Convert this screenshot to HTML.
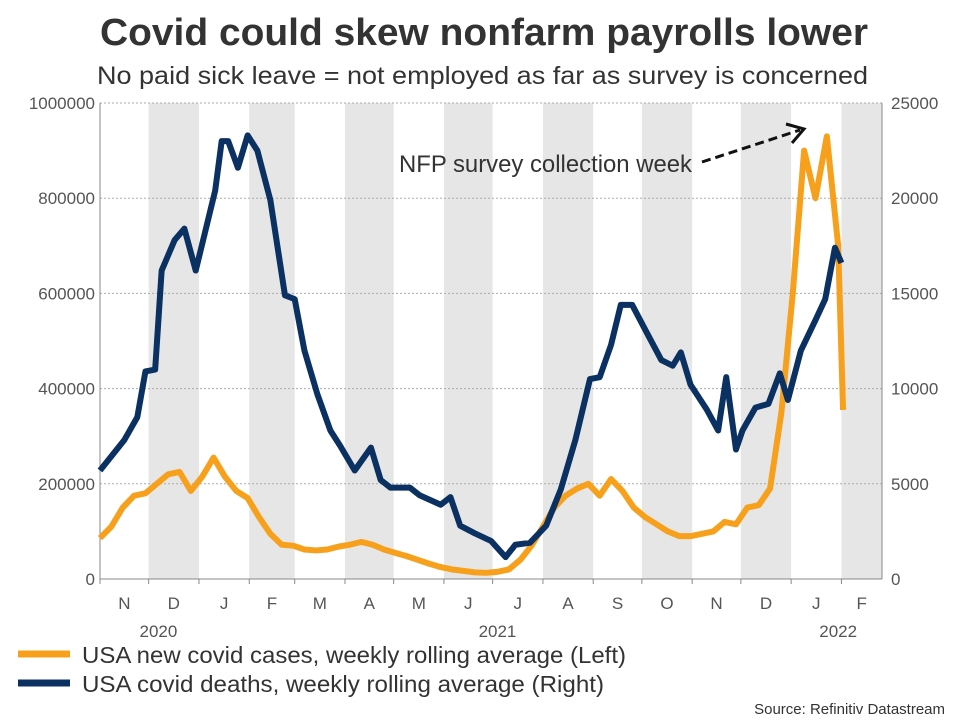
<!DOCTYPE html>
<html><head><meta charset="utf-8"><style>
body{margin:0;background:#fff;font-family:"Liberation Sans",Arial,sans-serif;}
svg text{font-family:"Liberation Sans",Arial,sans-serif;}
</style></head><body>
<svg id="c" width="960" height="720" xmlns="http://www.w3.org/2000/svg">
<rect width="960" height="720" fill="#fff"/>
<text x="100" y="45" font-size="38" font-weight="bold" fill="#333" textLength="768" lengthAdjust="spacingAndGlyphs">Covid could skew nonfarm payrolls lower</text>
<text x="97" y="84" font-size="25" fill="#333" textLength="771" lengthAdjust="spacingAndGlyphs">No paid sick leave = not employed as far as survey is concerned</text>
<g id="bands"></g><g id="grid"></g><g id="axes"></g><g id="series"></g>
<text x="399" y="172" font-size="24" fill="#333" textLength="293" lengthAdjust="spacingAndGlyphs">NFP survey collection week</text>
<line x1="702" y1="162" x2="800" y2="130" stroke="#111" stroke-width="3" stroke-dasharray="9,5"/>
<polyline points="786,124 804,129 792,143" fill="none" stroke="#111" stroke-width="3"/>
<line x1="18" y1="654" x2="70" y2="654" stroke="#f7a01c" stroke-width="7"/>
<text x="82" y="663" font-size="23" fill="#333" textLength="544" lengthAdjust="spacingAndGlyphs">USA new covid cases, weekly rolling average (Left)</text>
<line x1="18" y1="683" x2="70" y2="683" stroke="#0a3161" stroke-width="7"/>
<text x="82" y="692" font-size="23" fill="#333" textLength="522" lengthAdjust="spacingAndGlyphs">USA covid deaths, weekly rolling average (Right)</text>
<text x="945" y="714" text-anchor="end" font-size="15" fill="#333">Source: Refinitiv Datastream</text>
</svg>
<script>
const caseDays=[0,7,14,21,28,35,42,49,56,63,70,77,84,91,98,105,112,119,126,133,140,147,154,161,168,175,182,189,196,203,210,217,224,231,238,245,252,259,266,273,280,287,294,301,308,315,322,329,336,343,350,357,364,371,378,385,392,399,406,413,420,427,434,441,448,455,458];
const cases=[86000,110000,150000,175000,180000,200000,220000,225000,185000,215000,255000,215000,185000,170000,130000,95000,72000,70000,62000,60000,62000,68000,72000,78000,72000,62000,55000,48000,40000,32000,25000,20000,17000,14000,13000,15000,20000,40000,70000,110000,150000,175000,190000,200000,175000,210000,185000,150000,130000,115000,100000,90000,90000,95000,100000,120000,115000,150000,155000,190000,350000,600000,900000,800000,930000,700000,355000];
const deathDays=[0,15,23,28,34,38,46,52,59,65,71,75,79,85,91,97,105,114,120,126,134,142,148,157,167,173,179,191,197,210,216,222,231,241,250,256,265,275,284,293,302,308,315,321,328,336,346,353,358,364,374,381,386,392,396,404,412,419,424,432,441,447,453,457];
const deaths=[5700,7300,8500,10900,11000,16200,17800,18400,16200,18300,20400,23000,23000,21600,23300,22500,19900,14900,14700,12000,9700,7800,7000,5700,6900,5200,4800,4800,4400,3900,4300,2800,2400,2000,1150,1800,1900,2800,4700,7300,10500,10600,12300,14400,14400,13100,11500,11200,11900,10200,8900,7800,10600,6800,7800,9000,9200,10800,9400,12000,13600,14700,17400,16600];
const leftTicks=[0,200000,400000,600000,800000,1000000];
const rightTicks=[0,5000,10000,15000,20000,25000];
const monthLabels=["N","D","J","F","M","A","M","J","J","A","S","O","N","D","J","F"];
const monthStarts=[0,30,61,92,120,151,181,212,242,273,304,334,365,395,426,457,485];
const yearLabels=[["2020",36],["2021",245],["2022",455]];
const X0=100,X1=882,Y0=579,Y1=103,DMAX=482;
const xs=d=>X0+d/DMAX*(X1-X0);
const yl=v=>Y0-v/1000000*(Y0-Y1);
const yr=v=>Y0-v/25000*(Y0-Y1);
const NS="http://www.w3.org/2000/svg";
function mk(t,a,p){const e=document.createElementNS(NS,t);for(const k in a)e.setAttribute(k,a[k]);p.appendChild(e);return e;}
const bands=document.getElementById('bands'),grid=document.getElementById('grid'),axes=document.getElementById('axes'),series=document.getElementById('series');
for(let i=1;i<monthLabels.length;i+=2){
  const b=mk('rect',{x:xs(monthStarts[i]),y:Y1,width:xs(Math.min(monthStarts[i+1],DMAX))-xs(monthStarts[i]),height:Y0-Y1,fill:'#e6e6e6'},bands);
  
  
}
leftTicks.forEach((v,i)=>{
  const g=mk('line',{x1:X0,x2:X1,y1:yl(v),y2:yl(v),stroke:'#aaa','stroke-dasharray':'2,2','stroke-width':1},grid);
  
  
  const t=mk('text',{x:X0-5,y:yl(v)+6,'text-anchor':'end','font-size':17,fill:'#555'},axes);t.textContent=v;
  
  
});
rightTicks.forEach(v=>{
  const t=mk('text',{x:X1+9,y:yr(v)+6,'font-size':17,fill:'#555'},axes);t.textContent=v;
  
  
});
mk('line',{x1:X0,x2:X0,y1:Y1,y2:Y0,stroke:'#888'},axes);
mk('line',{x1:X1,x2:X1,y1:Y1,y2:Y0,stroke:'#888'},axes);
mk('line',{x1:X0,x2:X1,y1:Y0,y2:Y0,stroke:'#888'},axes);
monthLabels.forEach((m,i)=>{
  const a=monthStarts[i],b=Math.min(monthStarts[i+1],DMAX);
  mk('line',{x1:xs(a),x2:xs(a),y1:Y0,y2:Y0+5,stroke:'#888'},axes);
  const t=mk('text',{x:xs((a+b)/2),y:609,'text-anchor':'middle','font-size':17,fill:'#555'},axes);t.textContent=m;
  
  
});
yearLabels.forEach(([y,d])=>{
  const t=mk('text',{x:xs(d),y:637,'text-anchor':'middle','font-size':17,fill:'#555'},axes);t.textContent=y;
  
  
});
const pc=mk('polyline',{points:caseDays.map((d,i)=>xs(d)+','+yl(cases[i])).join(' '),fill:'none',stroke:'#f7a01c','stroke-width':6,'stroke-linejoin':'round'},series);


const pd=mk('polyline',{points:deathDays.map((d,i)=>xs(d)+','+yr(deaths[i])).join(' '),fill:'none',stroke:'#0a3161','stroke-width':6,'stroke-linejoin':'round'},series);


</script>
</body></html>
